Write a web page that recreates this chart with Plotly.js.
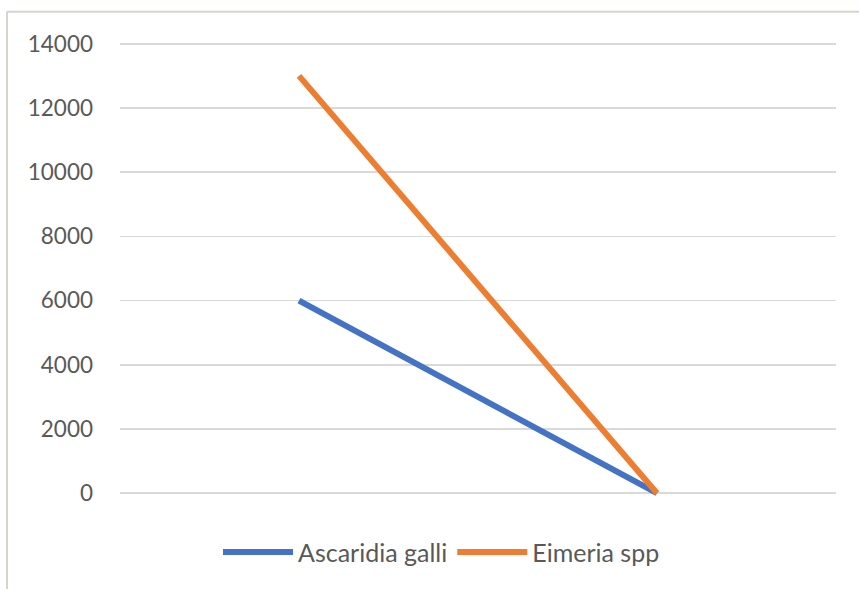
<!DOCTYPE html>
<html>
<head>
<meta charset="utf-8">
<script src="https://cdn.plot.ly/plotly-3.0.1.min.js"></script>
<style>html,body{margin:0;padding:0;background:#fff;}#chart{width:859px;height:589px;}</style>
</head>
<body>
<div id="chart"></div>
<script>
const categories = ["1", "2"];
const ascaridiaGalli = [6000, 0];
const eimeriaSpp = [13000, 0];
const seriesNames = ["Ascaridia galli", "Eimeria spp"];
const yTicks = [0, 2000, 4000, 6000, 8000, 10000, 12000, 14000];

const tickFont = {family: "Lato, 'Open Sans', sans-serif", color: "#595959", size: 22.5};
const legendFont = {family: "Lato, 'Open Sans', sans-serif", color: "#595959", size: 25};

const traces = [
  {x: categories, y: ascaridiaGalli, name: seriesNames[0], type: "scatter", mode: "lines",
   line: {color: "#4472C4", width: 6}},
  {x: categories, y: eimeriaSpp, name: seriesNames[1], type: "scatter", mode: "lines",
   line: {color: "#ED7D31", width: 6}}
];

const L = 120, R = 836, T0 = 44, B0 = 493;
const W = 859, H = 589;
const pad = 150;
const unitPx = (B0 - T0) / 14000;
const T = T0 - pad * unitPx, B = B0 + pad * unitPx;
const pw = R - L, ph = B - T;
const px = v => (v - L) / pw;
const py = v => (B - v) / ph;

const layout = {
  width: W, height: H,
  margin: {l: L, r: W - R, t: T, b: H - B, pad: 0},
  paper_bgcolor: "#ffffff",
  plot_bgcolor: "#ffffff",
  font: tickFont,
  showlegend: true,
  legend: {orientation: "h", x: px(441.5), xanchor: "center", y: py(552), yanchor: "middle",
           font: legendFont, itemwidth: 70, traceorder: "normal"},
  xaxis: {type: "category", range: [-0.5, 1.5], showticklabels: false, showgrid: false,
          zeroline: false, showline: false, ticks: ""},
  yaxis: {range: [-pad, 14000 + pad], tickvals: yTicks, ticktext: yTicks.map(String),
          showgrid: true, gridcolor: "#d9d9d9", gridwidth: 1.5, zeroline: false,
          showline: false, ticks: "", ticklabelstandoff: 26, tickfont: tickFont},
  shapes: [
    {type: "line", xref: "paper", yref: "paper", x0: px(7), x1: px(7), y0: py(600), y1: py(12),
     line: {color: "#d9d3d0", width: 2}},
    {type: "line", xref: "paper", yref: "paper", x0: px(7), x1: px(870), y0: py(12), y1: py(12),
     line: {color: "#d9d3d0", width: 2}}
  ]
};

Plotly.newPlot("chart", traces, layout, {displayModeBar: false, staticPlot: true});
</script>
</body>
</html>
